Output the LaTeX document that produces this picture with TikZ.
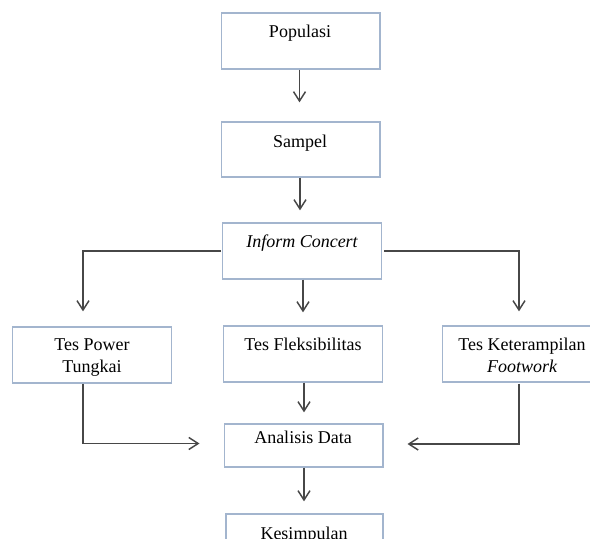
\documentclass[tikz,border=0pt]{standalone}
\usepackage{fontspec}
\setmainfont{Liberation Serif}
\usetikzlibrary{arrows.meta,calc}
\definecolor{boxc}{HTML}{A3B5CE}
\definecolor{linec}{HTML}{474747}
\begin{document}
\begin{tikzpicture}[x={(0.75pt,0)},y={(0,-0.75pt)},
  box/.style={draw=boxc,line width=1pt,inner sep=0pt,minimum width=119pt,fill=white},
  txt/.style={inner sep=0pt,anchor=mid,font=\fontsize{13.5}{16.5}\selectfont},
  txtii/.style={inner sep=0pt,anchor=center,align=center,font=\fontsize{13.5}{16.5}\selectfont},
  conn/.style={draw=linec,line width=1.1pt,-{Straight Barb[length=7pt,width=9pt]}},
  plain/.style={draw=linec,line width=1.1pt}]
\useasboundingbox (0,0) rectangle (590,539);
\clip (0,0) rectangle (590,539);
\fill[white] (0,0) rectangle (590,539);
% boxes
\node[box,minimum height=42pt] (pop) at (300.5,41) {};
\node[box,minimum height=41.25pt] (sam) at (300.5,149.5) {};
\node[box,minimum height=42pt] (inf) at (302,251) {};
\node[box,minimum height=42pt] (tpt) at (92,355) {};
\node[box,minimum height=42pt] (tfl) at (303,354) {};
\node[box,minimum height=42pt] (tkf) at (522,354) {};
\node[box,minimum height=32.25pt] (ana) at (303.5,445.5) {};
\node[box,minimum height=45pt,minimum width=117.75pt] (kes) at (304.5,544) {};
% texts
\node[txt] (tpop) at (300,34) {Populasi};
\node[txt] (tsam) at (300,144) {Sampel};
\node[txt] (tinf) at (302,244) {\itshape Inform Concert};
\node[txtii] (ttpt) at (92,357.5) {Tes Power\\Tungkai};
\node[txt] (ttfl) at (303,347) {Tes Fleksibilitas};
\node[txtii] (ttkf) at (522,355) {Tes Keterampilan\\\itshape Footwork};
\node[txt] (tana) at (303,440) {Analisis Data};
\node[txt] (tkes) at (304,536) {Kesimpulan};
% columns
\coordinate (lc) at (83,251);
\coordinate (rc) at (519,251);
% connectors
\draw[conn] ($(pop.south)+(-1,0)$) -- ($(sam.north)+(-1,-19)$);
\draw[conn] ($(sam.south)+(-0.5,0)$) -- ($(sam.north)+(-0.5,89)$);
\draw[conn] ($(inf.south)+(1,0)$) -- ($(tfl.north)+(0,-13)$);
\draw[conn] ($(inf.west)+(-1,0)$) -| ($(tpt.north -| lc)+(0,-15)$);
\draw[conn] ($(inf.east)+(2,0)$) -| ($(tkf.north -| rc)+(0,-14)$);
\draw[conn] ($(tfl.south)+(1,0)$) -- ($(ana.north)+(0.5,-11)$);
\draw[conn] ($(ana.south)+(0.5,0)$) -- ($(kes.north)+(-0.5,-12)$);
\draw[conn] (tpt.south -| lc) |- ($(ana.west)+(-24,-2)$);
\draw[conn] ($(tkf.south -| rc)+(0,1)$) |- ($(ana.east)+(24,-1.5)$);
\end{tikzpicture}
\end{document}
